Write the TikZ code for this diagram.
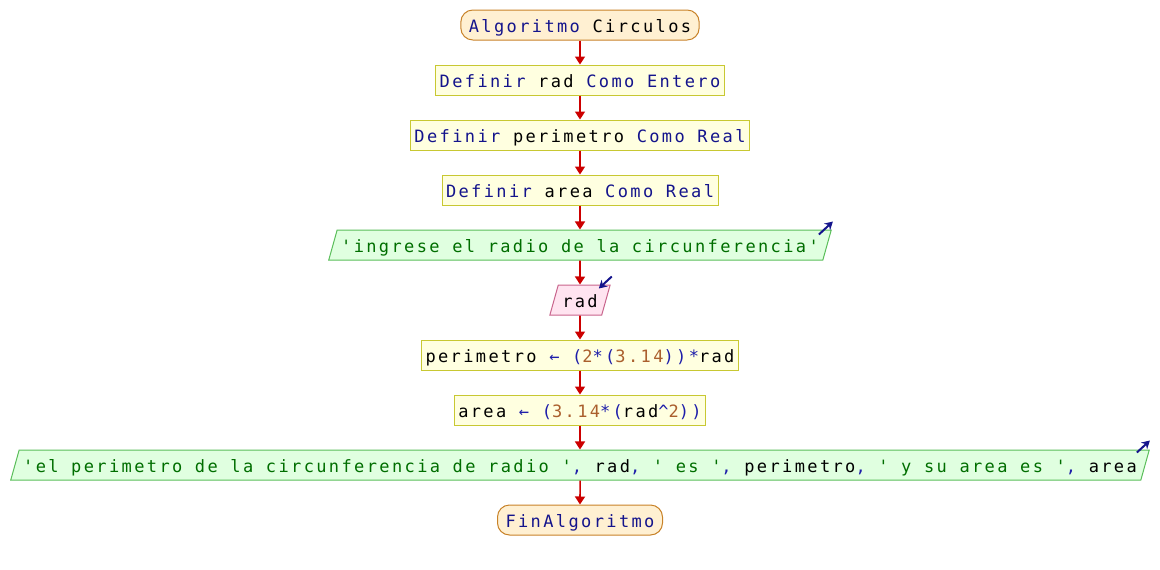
\documentclass[tikz,border=0pt]{standalone}
\usepackage{fontspec}
\setmonofont[LetterSpace=14.0]{DejaVu Sans Mono}
\usetikzlibrary{arrows.meta,shapes.geometric,calc}

\definecolor{kwblue}{RGB}{20,20,140}
\definecolor{opblue}{RGB}{30,30,170}
\definecolor{strgreen}{RGB}{0,110,0}
\definecolor{numbrown}{RGB}{170,95,45}
\definecolor{flowred}{RGB}{204,0,0}
\definecolor{termfill}{RGB}{255,240,210}
\definecolor{termline}{RGB}{200,130,40}
\definecolor{procfill}{RGB}{255,255,224}
\definecolor{procline}{RGB}{200,200,50}
\definecolor{outfill}{RGB}{224,255,224}
\definecolor{outline}{RGB}{90,190,90}
\definecolor{infill}{RGB}{255,228,240}
\definecolor{inline}{RGB}{200,100,140}

\newcommand{\codefont}{\ttfamily\fontsize{17}{20}\selectfont}
\newcommand{\kwd}[1]{\textcolor{kwblue}{#1}}
\newcommand{\opr}[1]{\textcolor{opblue}{#1}}
\newcommand{\strg}[1]{\textcolor{strgreen}{#1}}
\newcommand{\numb}[1]{\textcolor{numbrown}{#1}}

\tikzset{
    base/.style={minimum height=30pt,inner ysep=0pt,text height=16pt,text depth=2pt,line width=1pt},
    term/.style={base,draw=termline,fill=termfill,rounded corners=12pt,inner xsep=8pt},
    procbox/.style={base,draw=procline,fill=procfill,inner xsep=4pt},
    iobox/.style={base,trapezium,trapezium left angle=65,trapezium right angle=115,
        trapezium stretches=true,inner xsep=4pt},
    outbox/.style={iobox,draw=outline,fill=outfill},
    inbox/.style={iobox,draw=inline,fill=infill},
    flow/.style={draw=flowred,line width=1.6pt,-{Triangle[width=10pt,length=8pt]}},
    ioarrow/.style={draw=kwblue,line width=2pt,-{Stealth[length=8pt,width=9pt]}}
}

\begin{document}
\begin{tikzpicture}[x=1pt,y=1pt,font=\codefont]
    \useasboundingbox (0,0) rectangle (1160,-570);

    \node [term]    (start) at (580,-25)  {\kwd{Algoritmo} Circulos};
    \node [procbox] (def1)  at (580,-80)  {\kwd{Definir} rad \kwd{Como Entero}};
    \node [procbox] (def2)  at (580,-135) {\kwd{Definir} perimetro \kwd{Como Real}};
    \node [procbox] (def3)  at (580,-190) {\kwd{Definir} area \kwd{Como Real}};
    \node [outbox]  (out1)  at (580,-245) {\strg{'ingrese el radio de la circunferencia'}};
    \node [inbox]   (in1)   at (580,-300) {rad};
    \node [procbox] (asg1)  at (580,-355) {perimetro \opr{← (}\numb{2}\opr{*(}\numb{3.14}\opr{))*}rad};
    \node [procbox] (asg2)  at (580,-410) {area \opr{← (}\numb{3.14}\opr{*(}rad\opr{\textasciicircum}\numb{2}\opr{))}};
    \node [outbox]  (out2)  at (580,-465) {\strg{'el perimetro de la circunferencia de radio '}\opr{,} rad\opr{,} \strg{' es '}\opr{,} perimetro\opr{,} \strg{' y su area es '}\opr{,} area};
    \node [term]    (stop)  at (580,-520) {\kwd{FinAlgoritmo}};

    \draw [flow] (start) -- (def1);
    \draw [flow] (def1) -- (def2);
    \draw [flow] (def2) -- (def3);
    \draw [flow] (def3) -- (out1);
    \draw [flow] (out1) -- (in1);
    \draw [flow] (in1) -- (asg1);
    \draw [flow] (asg1) -- (asg2);
    \draw [flow] (asg2) -- (out2);
    \draw [flow] (out2) -- (stop);

    \draw [ioarrow] ($(out1.top right corner)+(-13,-5)$) -- ($(out1.top right corner)+(1,8)$);
    \draw [ioarrow] ($(out2.top right corner)+(-13,-3)$) -- ($(out2.top right corner)+(0,9)$);
    \draw [ioarrow] ($(in1.top right corner)+(1,8)$) -- ($(in1.top right corner)+(-12,-4)$);
\end{tikzpicture}
\end{document}
